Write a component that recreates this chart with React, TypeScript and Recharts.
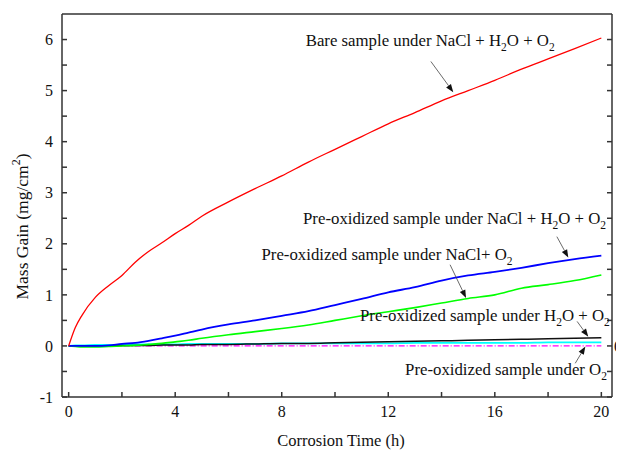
import React from 'react';
import { LineChart, Line, XAxis, YAxis, ReferenceDot, ReferenceLine, Label } from 'recharts';

const hours = [0, 0.25, 0.5, 1, 1.5, 2, 2.5, 3, 3.5, 4, 4.5, 5, 6, 7, 8, 9, 10, 11, 12, 13, 14, 15, 16, 17, 18, 19, 20];
const bareNaClH2OO2 = [0, 0.36, 0.6, 0.95, 1.18, 1.38, 1.64, 1.85, 2.02, 2.2, 2.36, 2.54, 2.82, 3.08, 3.33, 3.6, 3.85, 4.1, 4.35, 4.57, 4.8, 5.0, 5.2, 5.42, 5.62, 5.82, 6.03];
const preNaClH2OO2 = [0, 0, 0, 0, 0.01, 0.04, 0.06, 0.1, 0.15, 0.2, 0.26, 0.32, 0.42, 0.5, 0.59, 0.68, 0.8, 0.92, 1.05, 1.15, 1.28, 1.38, 1.45, 1.53, 1.62, 1.7, 1.77];
const preNaClO2 = [0, -0.01, -0.02, -0.02, -0.01, 0, 0.01, 0.03, 0.05, 0.08, 0.11, 0.15, 0.22, 0.28, 0.34, 0.41, 0.5, 0.59, 0.67, 0.75, 0.84, 0.93, 1.0, 1.13, 1.2, 1.28, 1.39];
const preH2OO2 = [0, 0, 0, 0, 0, 0.01, 0.01, 0.01, 0.02, 0.02, 0.02, 0.03, 0.03, 0.04, 0.05, 0.05, 0.06, 0.07, 0.08, 0.09, 0.1, 0.11, 0.12, 0.13, 0.14, 0.15, 0.16];
const preO2 = [0, 0.01, 0.01, 0.02, 0.02, 0.02, 0.03, 0.03, 0.03, 0.03, 0.04, 0.04, 0.04, 0.04, 0.05, 0.05, 0.05, 0.05, 0.05, 0.06, 0.06, 0.06, 0.06, 0.06, 0.07, 0.07, 0.07];
const reference = [0, 0, 0, 0, 0, 0, 0, 0, 0, 0, 0, 0, 0, 0, 0, 0, 0, 0, 0, 0, 0, 0, 0, 0, 0, 0, 0];

const xTicks = [0, 2, 4, 6, 8, 10, 12, 14, 16, 18, 20];
const yTicks = [-1, -0.5, 0, 0.5, 1, 1.5, 2, 2.5, 3, 3.5, 4, 4.5, 5, 5.5, 6];

// annotation: text parts [text, isSubscript], anchor (x,y) in data units, arrow from/to in data units
const annotations = [
  { parts: [['Bare sample under NaCl + H', false], ['2', true], ['O + O', false], ['2', true]], x: 8.9, y: 5.88, from: [13.6, 5.57], to: [14.44, 4.97] },
  { parts: [['Pre-oxidized sample under NaCl + H', false], ['2', true], ['O + O', false], ['2', true]], x: 8.8, y: 2.39, from: [18.33, 2.14], to: [18.76, 1.73] },
  { parts: [['Pre-oxidized sample under NaCl+ O', false], ['2', true]], x: 7.24, y: 1.69, from: [14.32, 1.59], to: [14.92, 0.94] },
  { parts: [['Pre-oxidized sample under H', false], ['2', true], ['O + O', false], ['2', true]], x: 10.94, y: 0.48, from: [19.09, 0.48], to: [19.51, 0.18] },
  { parts: [['Pre-oxidized sample under O', false], ['2', true]], x: 12.63, y: -0.57, from: [19.02, -0.34], to: [19.4, -0.01] },
];

const rows = hours.map((h, i) => ({
  h,
  bare: bareNaClH2OO2[i],
  preAll: preNaClH2OO2[i],
  preNaCl: preNaClO2[i],
  preH2O: preH2OO2[i],
  preO2: preO2[i],
  ref: reference[i],
}));

const FONT = '"Liberation Serif", "Times New Roman", serif';

const Arrow = (p: any) => {
  const { x1, y1, x2, y2 } = p;
  const ang = Math.atan2(y2 - y1, x2 - x1);
  const L = 8;
  const W = 3;
  const bx = x2 - L * Math.cos(ang);
  const by = y2 - L * Math.sin(ang);
  const px = -Math.sin(ang) * W;
  const py = Math.cos(ang) * W;
  return (
    <g>
      <line x1={x1} y1={y1} x2={bx} y2={by} stroke="#444" strokeWidth={0.8} />
      <polygon points={`${x2},${y2} ${bx + px},${by + py} ${bx - px},${by - py}`} fill="#111" />
    </g>
  );
};

const makeText = (parts: any[]) => (p: any) => (
  <text x={p.cx} y={p.cy} fontFamily={FONT} fontSize={16.8} fill="#111">
    {parts.map((pt: any, i: number) => {
      const prevSub = i > 0 && parts[i - 1][1];
      const dy = pt[1] ? 5 : prevSub ? -5 : 0;
      return (
        <tspan key={i} dy={dy} fontSize={pt[1] ? 11.5 : 16.8}>
          {pt[0]}
        </tspan>
      );
    })}
  </text>
);

const YLabel = (props: any) => {
  const vb = props.viewBox || {};
  const cx = vb.x + 14;
  const cy = vb.y + vb.height / 2 + 21;
  return (
    <text x={cx} y={cy} transform={`rotate(-90 ${cx} ${cy})`} textAnchor="middle" dominantBaseline="central" fontFamily={FONT} fontSize={17.5} fill="#111">
      Mass Gain (mg/cm<tspan dy={-6} fontSize={12}>2</tspan>
      <tspan dy={6}>)</tspan>
    </text>
  );
};

const XLabel = (props: any) => {
  const vb = props.viewBox || {};
  return (
    <text x={vb.x + vb.width / 2 + 4} y={vb.y + vb.height - 4} textAnchor="middle" fontFamily={FONT} fontSize={16.5} fill="#111">
      Corrosion Time (h)
    </text>
  );
};

const tickStyle = { fontFamily: FONT, fontSize: 16, fill: '#111' };

export default function App() {
  return (
    <LineChart width={616} height={442} data={rows} margin={{ top: 0, right: 0, left: 0, bottom: 0 }}>
      <XAxis
        dataKey="h"
        type="number"
        domain={[-0.25, 20.4]}
        allowDataOverflow
        ticks={xTicks}
        interval={0}
        tickFormatter={(v: number) => (v % 4 === 0 ? String(v) : '')}
        tickSize={-5}
        tickMargin={14}
        height={53}
        stroke="#333"
        strokeWidth={1.5}
        tick={tickStyle}
      >
        <Label content={<XLabel />} />
      </XAxis>
      <XAxis
        xAxisId="top"
        orientation="top"
        dataKey="h"
        type="number"
        domain={[-0.25, 20.4]}
        height={6}
        tickFormatter={() => ''}
        tickLine={false}
        stroke="#333"
        strokeWidth={1.5}
      />
      <YAxis
        type="number"
        domain={[-1, 6.5]}
        allowDataOverflow
        ticks={yTicks}
        interval={0}
        tickFormatter={(v: number) => (Number.isInteger(v) ? String(v) : '')}
        tickSize={-5}
        tickMargin={14}
        width={54}
        stroke="#333"
        strokeWidth={1.5}
        tick={tickStyle}
      >
        <Label content={<YLabel />} />
      </YAxis>
      <YAxis
        yAxisId="r"
        orientation="right"
        type="number"
        domain={[-1, 6.5]}
        allowDataOverflow
        ticks={yTicks}
        interval={0}
        tickFormatter={(v: number) => (v === 0 ? '0' : '')}
        tickSize={-5}
        tickMargin={7}
        width={12}
        stroke="#333"
        strokeWidth={1.5}
        tick={tickStyle}
      />
      <Line dataKey="ref" stroke="#ff00ff" strokeWidth={1.2} strokeDasharray="6 2 1 2" dot={false} isAnimationActive={false} />
      <Line type="monotone" dataKey="preO2" stroke="#00ffff" strokeWidth={1.8} dot={false} isAnimationActive={false} />
      <Line type="monotone" dataKey="preH2O" stroke="#111111" strokeWidth={1.5} dot={false} isAnimationActive={false} />
      <Line type="monotone" dataKey="preNaCl" stroke="#00ff00" strokeWidth={1.6} dot={false} isAnimationActive={false} />
      <Line type="monotone" dataKey="preAll" stroke="#0000ff" strokeWidth={1.8} dot={false} isAnimationActive={false} />
      <Line type="monotone" dataKey="bare" stroke="#ff0000" strokeWidth={1.3} dot={false} isAnimationActive={false} />
      {annotations.map((a, i) => (
        <ReferenceLine
          key={'arr' + i}
          segment={[{ x: a.from[0], y: a.from[1] }, { x: a.to[0], y: a.to[1] }]}
          ifOverflow="visible"
          shape={Arrow}
        />
      ))}
      {annotations.map((a, i) => (
        <ReferenceDot key={'txt' + i} x={a.x} y={a.y} r={0} ifOverflow="visible" shape={makeText(a.parts)} />
      ))}
    </LineChart>
  );
}
